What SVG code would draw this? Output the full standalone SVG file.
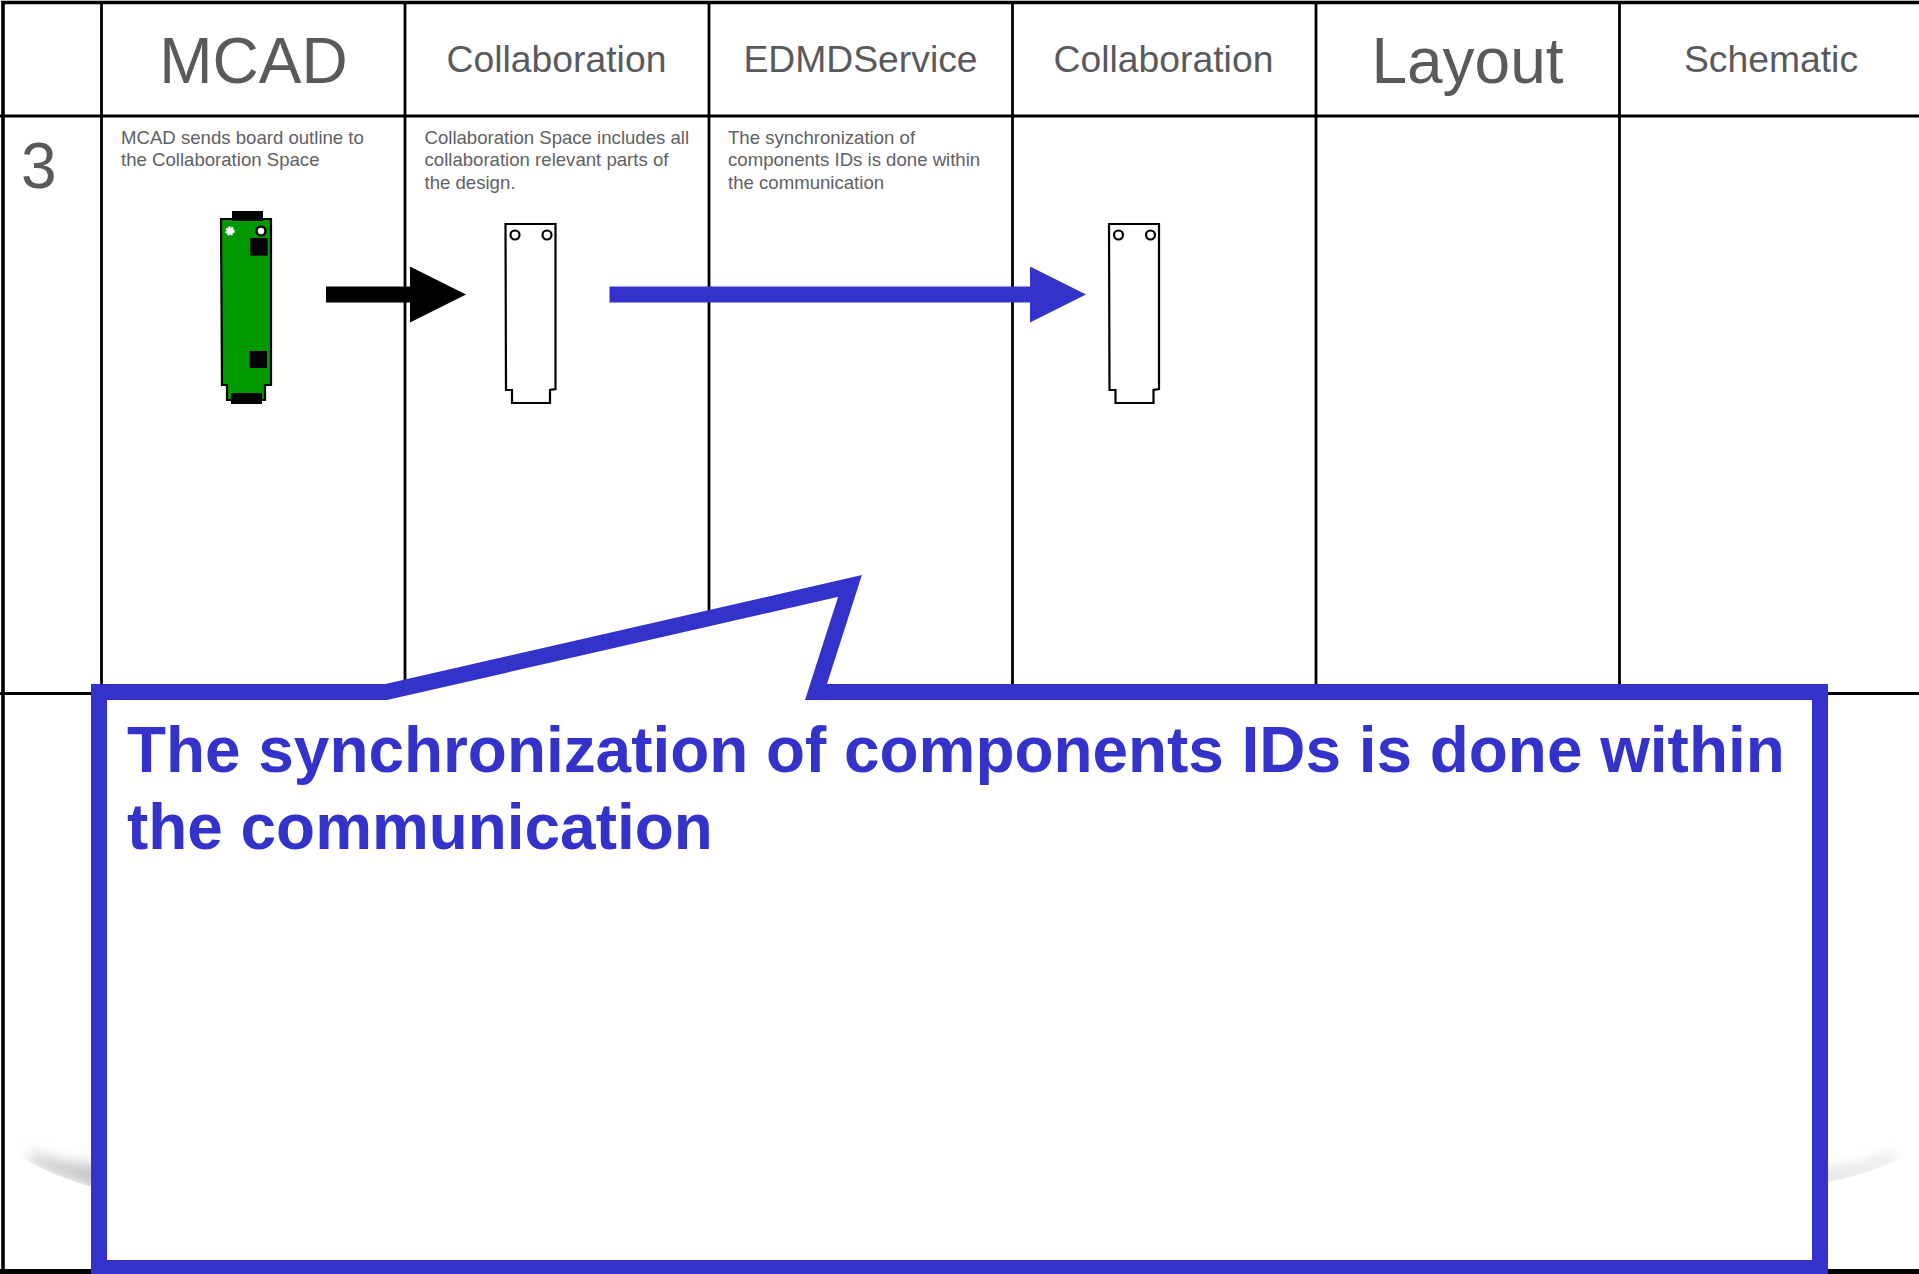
<svg xmlns="http://www.w3.org/2000/svg" width="1919" height="1274" viewBox="0 0 1919 1274">
<style>
text{font-family:"Liberation Sans",Arial,sans-serif;fill:#5a5a5c}
.big{font-size:64px;text-anchor:middle}
.hd{font-size:37.3px;text-anchor:middle}
.sm{font-size:18.6px;fill:#616163}
.grid{stroke:#000;stroke-width:2.8;fill:none}
.outer{stroke:#000;stroke-width:3.6;fill:none}
.board{fill:#fff;stroke:#000;stroke-width:2.2}
.green{fill:#009900;stroke:#000;stroke-width:2.2}
.k{fill:#000}
</style>
<defs>
<marker id="hb" markerUnits="userSpaceOnUse" markerWidth="56" markerHeight="56" refX="0" refY="28" orient="auto"><path d="M0 0L56 28L0 56Z" fill="#000"/></marker>
<marker id="hc" markerUnits="userSpaceOnUse" markerWidth="56" markerHeight="56" refX="0" refY="28" orient="auto"><path d="M0 0L56 28L0 56Z" fill="#3333cc"/></marker>
<filter id="soft" x="-30%" y="-100%" width="160%" height="300%"><feGaussianBlur stdDeviation="7"/></filter>
<clipPath id="cl"><path d="M0 1142L6 1146C40 1172 70 1180 92 1187V1090H0Z"/></clipPath>
<clipPath id="cr"><path d="M1828 1182C1860 1176 1890 1165 1919 1150V1090H1828Z"/></clipPath>
</defs>
<rect width="1919" height="1274" fill="#fff"/>
<g id="shadows">
<g clip-path="url(#cl)"><path d="M30 1162C50 1172 75 1182 110 1194V1164C85 1166 55 1162 30 1152Z" fill="#c4c4c4" filter="url(#soft)"/></g>
<g clip-path="url(#cr)"><path d="M1815 1186C1845 1180 1870 1172 1895 1161V1153C1870 1162 1845 1170 1815 1172Z" fill="#dcdcdc" filter="url(#soft)"/></g>
</g>
<g id="grid">
<path class="outer" d="M3 1274V2.500H1919"/>
<path class="grid" d="M0 116H1919M0 693.500H1919M101.500 2V1274M405 2V1274M709 2V1274M1012.500 2V1274M1316 2V1274M1619.500 2V1274"/>
<rect x="0" y="1269" width="1919" height="5" fill="#000"/>
</g>
<g id="hdr-mcad"><text class="big" x="253.500" y="83">MCAD</text></g>
<g id="hdr-collab1"><text class="hd" x="556.500" y="72">Collaboration</text></g>
<g id="hdr-edmd"><text class="hd" x="860.500" y="72">EDMDService</text></g>
<g id="hdr-collab2"><text class="hd" x="1163.500" y="72">Collaboration</text></g>
<g id="hdr-layout"><text class="big" x="1467.500" y="83">Layout</text></g>
<g id="hdr-schematic"><text class="hd" x="1771" y="72">Schematic</text></g>
<g id="row-num"><text x="21" y="188" font-size="64">3</text></g>
<g id="desc-mcad"><text class="sm" x="121" y="144">MCAD sends board outline to</text><text class="sm" x="121" y="166">the Collaboration Space</text></g>
<g id="desc-collab"><text class="sm" x="424.500" y="144">Collaboration Space includes all</text><text class="sm" x="424.500" y="166">collaboration relevant parts of</text><text class="sm" x="424.500" y="189">the design.</text></g>
<g id="desc-edmd"><text class="sm" x="728" y="144">The synchronization of</text><text class="sm" x="728" y="166">components IDs is done within</text><text class="sm" x="728" y="189">the communication</text></g>
<g id="board-mcad">
<path class="green" d="M221 219H271V385H265V400H227V385H222Z"/>
<rect class="k" x="232" y="211" width="31" height="10"/>
<rect class="k" x="231" y="393" width="31" height="11"/>
<rect class="k" x="250.300" y="238" width="17.300" height="17.600"/>
<rect class="k" x="249.700" y="351" width="17.300" height="17"/>
<circle cx="230" cy="231" r="3.500" fill="#fff" stroke="#fff" stroke-width="2.400" stroke-dasharray="1.800 1.100"/>
<circle cx="261" cy="231" r="4.500" fill="#fff" stroke="#000" stroke-width="2.400"/>
</g>
<g id="board-collab"><path class="board" d="M505.500 224H555.500V389L550 390V403H512V390H506Z"/><circle class="board" cx="515" cy="235" r="4.500"/><circle class="board" cx="547" cy="235" r="4.500"/></g>
<g id="board-collab2" transform="translate(603.500 0)"><path class="board" d="M505.500 224H555.500V389L550 390V403H512V390H506Z"/><circle class="board" cx="515" cy="235" r="4.500"/><circle class="board" cx="547" cy="235" r="4.500"/></g>
<g id="connectors">
<line x1="326" y1="294.500" x2="410" y2="294.500" stroke="#000" stroke-width="16" marker-end="url(#hb)"/>
<line x1="609.500" y1="294.500" x2="1030" y2="294.500" stroke="#3333cc" stroke-width="16" marker-end="url(#hc)"/>
</g>
<g id="callout">
<path d="M99 692H386L850 586L816 692H1820V1268H99Z" fill="#fff" stroke="#3333cc" stroke-width="16" stroke-miterlimit="20"/>
<text x="127" y="771.500" font-size="63.900" font-weight="700" style="fill:#3333cc">The synchronization of components IDs is done within</text>
<text x="127" y="849" font-size="63.900" font-weight="700" style="fill:#3333cc">the communication</text>
</g>
</svg>
